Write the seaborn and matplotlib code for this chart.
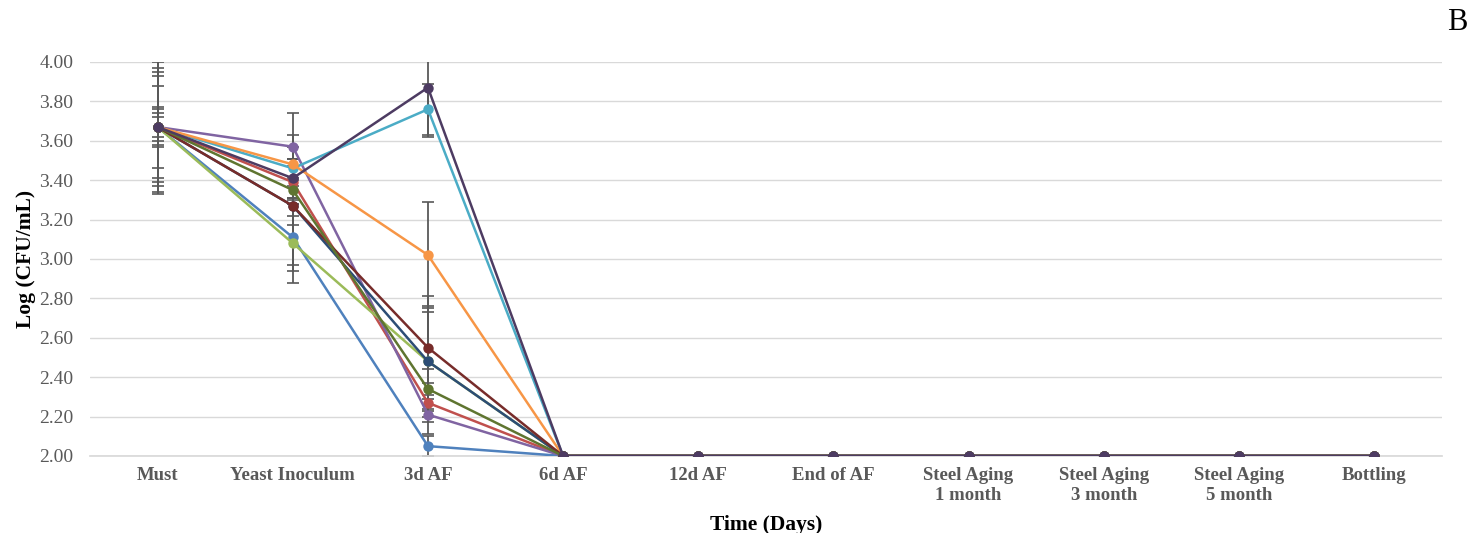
import matplotlib
matplotlib.use("Agg")
import matplotlib.pyplot as plt
import numpy as np
import pandas as pd
import seaborn as sns

# Time points
etapas = ["Must", "Yeast Inoculum", "3d AF", "6d AF", "12d AF", "End of AF",
          "Steel Aging\n1 month", "Steel Aging\n3 month", "Steel Aging\n5 month", "Bottling"]

series = ["S1", "S2", "S3", "S4", "S5", "S6", "S7", "S8", "S9", "S10"]
cores = ["#4F81BD", "#C0504D", "#9BBB59", "#8064A2", "#4BACC6", "#F79646",
         "#2C4D75", "#772C2A", "#5F7530", "#4D3B62"]

# Log (CFU/mL) for each series (first three points, then 2.00 from 6d AF on)
s1 = [3.67, 3.11, 2.05, 2.00, 2.00, 2.00, 2.00, 2.00, 2.00, 2.00]
s2 = [3.67, 3.39, 2.27, 2.00, 2.00, 2.00, 2.00, 2.00, 2.00, 2.00]
s3 = [3.67, 3.08, 2.48, 2.00, 2.00, 2.00, 2.00, 2.00, 2.00, 2.00]
s4 = [3.67, 3.57, 2.21, 2.00, 2.00, 2.00, 2.00, 2.00, 2.00, 2.00]
s5 = [3.67, 3.46, 3.76, 2.00, 2.00, 2.00, 2.00, 2.00, 2.00, 2.00]
s6 = [3.67, 3.48, 3.02, 2.00, 2.00, 2.00, 2.00, 2.00, 2.00, 2.00]
s7 = [3.67, 3.27, 2.48, 2.00, 2.00, 2.00, 2.00, 2.00, 2.00, 2.00]
s8 = [3.67, 3.27, 2.55, 2.00, 2.00, 2.00, 2.00, 2.00, 2.00, 2.00]
s9 = [3.67, 3.35, 2.34, 2.00, 2.00, 2.00, 2.00, 2.00, 2.00, 2.00]
s10 = [3.67, 3.41, 3.87, 2.00, 2.00, 2.00, 2.00, 2.00, 2.00, 2.00]

# Standard deviations
e1 = [0.34, 0.17, 0.05, 0, 0, 0, 0, 0, 0, 0]
e2 = [0.10, 0.08, 0.10, 0, 0, 0, 0, 0, 0, 0]
e3 = [0.33, 0.20, 0.25, 0, 0, 0, 0, 0, 0, 0]
e4 = [0.09, 0.06, 0.10, 0, 0, 0, 0, 0, 0, 0]
e5 = [0.28, 0.05, 0.13, 0, 0, 0, 0, 0, 0, 0]
e6 = [0.26, 0.26, 0.27, 0, 0, 0, 0, 0, 0, 0]
e7 = [0.21, 0.10, 0.28, 0, 0, 0, 0, 0, 0, 0]
e8 = [0.07, 0.30, 0.26, 0, 0, 0, 0, 0, 0, 0]
e9 = [0.05, 0.05, 0.10, 0, 0, 0, 0, 0, 0, 0]
e10 = [0.30, 0.10, 0.25, 0, 0, 0, 0, 0, 0, 0]

valores = [s1, s2, s3, s4, s5, s6, s7, s8, s9, s10]
erros = [e1, e2, e3, e4, e5, e6, e7, e8, e9, e10]

pos = np.arange(len(etapas))
dados = pd.DataFrame({
    "Etapa": np.tile(pos, len(series)),
    "Serie": np.repeat(series, len(etapas)),
    "Log": np.concatenate(valores),
})

sns.set_theme(style="white")
plt.rcParams["font.family"] = ["Liberation Serif", "DejaVu Serif"]

fig = plt.figure(figsize=(14.74, 5.33), dpi=100)
ax = fig.add_axes([0.0611, 0.1445, 0.9169, 0.7392])

# error bars (gray, behind the lines)
for v, e in zip(valores, erros):
    ax.errorbar(pos, v, yerr=e, fmt="none", ecolor="#595959", elinewidth=1.3,
                capsize=4.5, capthick=1.2, zorder=1)

sns.lineplot(data=dados, x="Etapa", y="Log", hue="Serie", palette=cores,
             marker="o", markersize=7.5, markeredgewidth=0, linewidth=1.8,
             errorbar=None, legend=False, ax=ax, zorder=3)

ax.set_xlim(-0.5, len(etapas) - 0.5)
ax.set_ylim(2.0, 4.0)
ax.set_yticks(np.arange(2.0, 4.01, 0.2))
ax.set_yticklabels([f"{t:.2f}" for t in np.arange(2.0, 4.01, 0.2)],
                   fontsize=14, color="#595959")
ax.set_xticks(pos)
ax.set_xticklabels(etapas, fontsize=13.5, fontweight="bold", color="#595959",
                   linespacing=1.25)
ax.tick_params(axis="y", length=0, pad=12)
ax.tick_params(axis="x", length=0, pad=8)
ax.grid(axis="y", color="#D9D9D9", linewidth=1.0)
ax.set_axisbelow(True)
for lado in ["top", "right", "left"]:
    ax.spines[lado].set_visible(False)
ax.spines["bottom"].set_color("#D9D9D9")

ax.set_xlabel("Time (Days)", fontsize=15.5, fontweight="bold", color="black", labelpad=8)
ax.set_ylabel("Log (CFU/mL)", fontsize=15.5, fontweight="bold", color="black", labelpad=2)

fig.text(0.9955, 0.958, "B", fontsize=22, ha="right", va="center", color="black")

fig.savefig("out.png", dpi=100)
